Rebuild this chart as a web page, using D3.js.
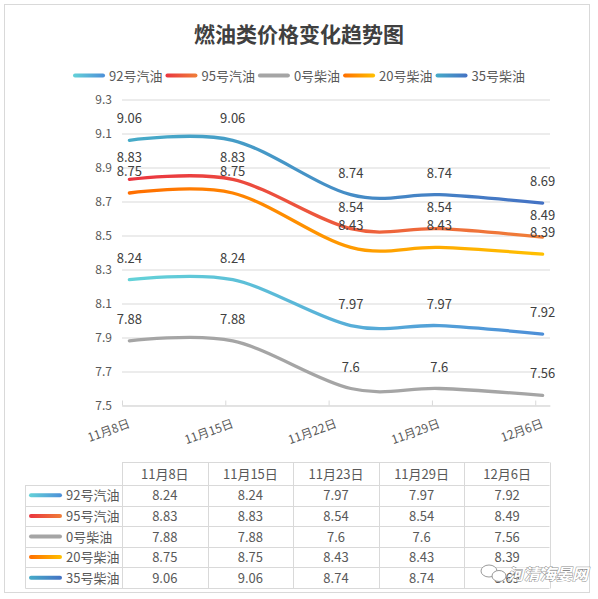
<!DOCTYPE html>
<html>
<head>
<meta charset="utf-8">
<script src="https://cdn.jsdelivr.net/npm/d3@7"></script>
<style>
  html, body { margin: 0; padding: 0; background: #fff; }
  svg { display: block; font-family: "Noto Sans CJK SC", "Liberation Sans", sans-serif; }
</style>
</head>
<body>
<svg id="chart" width="598" height="599"></svg>
<script>
// ---------- data ----------
const title = "燃油类价格变化趋势图";
const seriesNames = ["92号汽油", "95号汽油", "0号柴油", "20号柴油", "35号柴油"];
const dates = ["2018-11-08", "2018-11-15", "2018-11-23", "2018-11-29", "2018-12-06"];
const tableHeaders = ["11月8日", "11月15日", "11月23日", "11月29日", "12月6日"];
const axisTickDates = ["2018-11-08", "2018-11-15", "2018-11-22", "2018-11-29", "2018-12-06"];
const axisTickLabels = ["11月8日", "11月15日", "11月22日", "11月29日", "12月6日"];
const yTicks = [7.5, 7.7, 7.9, 8.1, 8.3, 8.5, 8.7, 8.9, 9.1, 9.3];
const gas92 = [8.24, 8.24, 7.97, 7.97, 7.92];
const gas95 = [8.83, 8.83, 8.54, 8.54, 8.49];
const diesel0 = [7.88, 7.88, 7.6, 7.6, 7.56];
const diesel20 = [8.75, 8.75, 8.43, 8.43, 8.39];
const diesel35 = [9.06, 9.06, 8.74, 8.74, 8.69];
const seriesValues = [gas92, gas95, diesel0, diesel20, diesel35];
const seriesColors = [
  ["#63d2d8", "#4d8fd8"],
  ["#ea3540", "#f07f38"],
  ["#a5a5a5", "#a5a5a5"],
  ["#ff6e00", "#ffc000"],
  ["#46abc8", "#4472c4"]
];
const watermark = "河清海晏网";

// ---------- layout ----------
const svg = d3.select("#chart");
const parse = d3.utcParse("%Y-%m-%d");
const halfDay = 12 * 3600 * 1000;
const plotLeft = 122, plotRight = 550, plotTop = 99.5, plotBottom = 405.5;

const x = d3.scaleUtc()
  .domain([parse("2018-11-08"), parse("2018-12-07")])
  .range([plotLeft, plotRight]);
const y = d3.scaleLinear().domain([7.5, 9.3]).range([plotBottom, plotTop]);
const px = d => x(new Date(parse(d).getTime() + halfDay));

const textCol = "#595959";

// outer border
svg.append("rect").attr("x", 4.5).attr("y", 4.5).attr("width", 585).attr("height", 588)
  .attr("fill", "#fff").attr("stroke", "#d9d9d9").attr("stroke-width", 1);

// title
svg.append("text").attr("x", 299).attr("y", 42).attr("text-anchor", "middle")
  .attr("font-size", 21).attr("font-weight", "bold").attr("fill", "#404040").text(title);

// gradients
const defs = svg.append("defs");
seriesNames.forEach((n, i) => {
  const g = defs.append("linearGradient").attr("id", "gl" + i)
    .attr("gradientUnits", "userSpaceOnUse")
    .attr("x1", px(dates[0])).attr("x2", px(dates[dates.length - 1])).attr("y1", 0).attr("y2", 0);
  g.append("stop").attr("offset", "0%").attr("stop-color", seriesColors[i][0]);
  g.append("stop").attr("offset", "100%").attr("stop-color", seriesColors[i][1]);
  const k = defs.append("linearGradient").attr("id", "gk" + i)
    .attr("x1", 0).attr("x2", 1).attr("y1", 0).attr("y2", 0);
  k.append("stop").attr("offset", "0%").attr("stop-color", seriesColors[i][0]);
  k.append("stop").attr("offset", "100%").attr("stop-color", seriesColors[i][1]);
});

// legend
const legend = svg.append("g");
let lx = 0;
seriesNames.forEach((n, i) => {
  const item = legend.append("g").attr("transform", `translate(${lx},0)`);
  item.append("rect").attr("x", 0).attr("y", -2).attr("width", 32).attr("height", 4).attr("rx", 2)
    .attr("fill", `url(#gk${i})`);
  const t = item.append("text").attr("x", 36).attr("y", 5).attr("font-size", 13)
    .attr("fill", textCol).text(n);
  lx += 36 + t.node().getComputedTextLength() + 3;
});
legend.attr("transform", `translate(${299 - (lx - 3) / 2},75.5)`);

// y grid + labels
const yAxis = svg.append("g").attr("transform", `translate(${plotLeft},0)`)
  .call(d3.axisLeft(y).tickValues(yTicks).tickSize(-(plotRight - plotLeft)).tickSizeOuter(0)
    .tickFormat(d3.format(".1f")).tickPadding(10));
yAxis.select(".domain").remove();
yAxis.selectAll(".tick line").attr("stroke", "#d9d9d9");
yAxis.selectAll(".tick text").attr("font-size", 12).attr("fill", textCol)
  .attr("font-family", "'Noto Sans CJK SC', sans-serif");

// x axis
const xAxis = svg.append("g").attr("transform", `translate(0,${plotBottom})`)
  .call(d3.axisBottom(x).tickValues(axisTickDates.map(parse)).tickSize(-5).tickSizeOuter(0)
    .tickFormat((d, i) => axisTickLabels[i]));
xAxis.select(".domain").attr("stroke", "#d9d9d9");
xAxis.selectAll(".tick line").attr("stroke", "#d9d9d9");
const dx = x(new Date(parse("2018-11-08").getTime() + halfDay)) - x(parse("2018-11-08"));
xAxis.selectAll(".tick text")
  .attr("x", 0).attr("y", 0).attr("dy", 0)
  .attr("transform", `translate(${dx + 1},21.5) rotate(-20)`)
  .attr("text-anchor", "end").attr("font-size", 12).attr("fill", textCol)
  .attr("font-family", "'Noto Sans CJK SC', sans-serif");

// lines
const line = d3.line().curve(d3.curveCardinal.tension(0))
  .x((d, i) => px(dates[i])).y(d => y(d));
const drawOrder = [2, 0, 3, 1, 4];
drawOrder.forEach(i => {
  svg.append("path").attr("d", line(seriesValues[i])).attr("fill", "none")
    .attr("stroke", `url(#gl${i})`).attr("stroke-width", 3.3)
    .attr("stroke-linecap", "round").attr("stroke-linejoin", "round");
});

// data labels
seriesValues.forEach((vals, i) => {
  svg.append("g").selectAll("text").data(vals).join("text")
    .attr("x", (d, j) => px(dates[j])).attr("y", d => y(d) - 17)
    .attr("text-anchor", "middle").attr("font-size", 13).attr("fill", "#404040")
    .text(d => String(d));
});

// data table
const tTop = 462.5, headH = 22.5, rowH = 20.6, tLeft = 25.5;
const colW = (plotRight - plotLeft) / 5;
const tableBottom = tTop + headH + rowH * 5;
const tg = svg.append("g").attr("stroke", "#d9d9d9").attr("stroke-width", 1);
tg.append("line").attr("x1", plotLeft).attr("x2", plotRight - 0.5).attr("y1", tTop).attr("y2", tTop);
for (let r = 0; r <= 5; r++) {
  const yy = Math.round(tTop + headH + r * rowH) + 0.5;
  tg.append("line").attr("x1", tLeft).attr("x2", plotRight - 0.5).attr("y1", yy).attr("y2", yy);
}
tg.append("line").attr("x1", tLeft).attr("x2", tLeft)
  .attr("y1", tTop + headH).attr("y2", Math.round(tableBottom) + 0.5);
for (let c = 0; c <= 5; c++) {
  const xx = Math.round(plotLeft + c * colW) + 0.5;
  tg.append("line").attr("x1", xx).attr("x2", xx).attr("y1", tTop).attr("y2", Math.round(tableBottom) + 0.5);
}
tableHeaders.forEach((h, c) => {
  svg.append("text").attr("x", plotLeft + (c + 0.5) * colW).attr("y", tTop + 16.5)
    .attr("text-anchor", "middle").attr("font-size", 13).attr("fill", textCol).text(h);
});
seriesNames.forEach((n, r) => {
  const cy = tTop + headH + (r + 0.5) * rowH;
  svg.append("rect").attr("x", 29).attr("y", cy - 2).attr("width", 33).attr("height", 4).attr("rx", 2)
    .attr("fill", `url(#gk${r})`);
  svg.append("text").attr("x", 66).attr("y", cy + 5).attr("font-size", 13).attr("fill", textCol).text(n);
  seriesValues[r].forEach((v, c) => {
    svg.append("text").attr("x", plotLeft + (c + 0.5) * colW).attr("y", cy + 5)
      .attr("text-anchor", "middle").attr("font-size", 13).attr("fill", textCol).text(String(v));
  });
});

// watermark
const wm = svg.append("g").attr("transform", "translate(480,565)");
wm.append("ellipse").attr("cx", 9).attr("cy", 6).attr("rx", 8).attr("ry", 6)
  .attr("fill", "#fff").attr("stroke", "#9a9a9a").attr("stroke-width", 1);
wm.append("ellipse").attr("cx", 19).attr("cy", 11).attr("rx", 7).attr("ry", 5.5)
  .attr("fill", "#fff").attr("stroke", "#9a9a9a").attr("stroke-width", 1);
svg.append("text").attr("x", 508).attr("y", 580).attr("font-size", 16).attr("font-style", "italic")
  .attr("font-weight", "bold").attr("fill", "#fff").attr("stroke", "#8a8a8a").attr("stroke-width", 0.9)
  .attr("paint-order", "stroke").text(watermark);
</script>
</body>
</html>
